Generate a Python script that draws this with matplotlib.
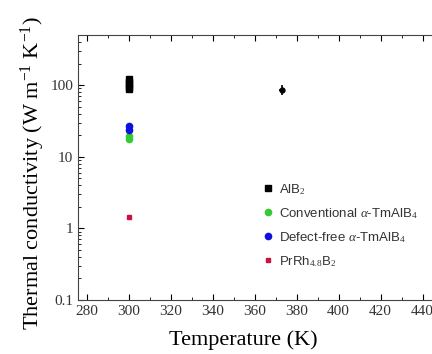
import matplotlib.pyplot as plt
from matplotlib.ticker import MultipleLocator, LogLocator, FixedLocator, NullFormatter

# AlB2 values: cluster at room temperature plus one point near 373 K
alb2_T = [300, 300, 300, 300, 300]
alb2_k = [88, 95, 103, 110, 120]
alb2_hot_T = [373]
alb2_hot_k = [86]
conv_T = [300, 300]
conv_k = [17.5, 19.5]
defect_T = [300, 300]
defect_k = [23.5, 27]
prrh_T = [300]
prrh_k = [1.45]

labels = ["AlB$_2$", "Conventional $\\alpha$-TmAlB$_4$",
          "Defect-free $\\alpha$-TmAlB$_4$", "PrRh$_{4.8}$B$_2$"]

plt.rcParams["mathtext.fontset"] = "custom"
plt.rcParams["mathtext.rm"] = "Liberation Serif"
plt.rcParams["mathtext.it"] = "Liberation Serif:italic"

fig = plt.figure(figsize=(4.32, 3.54), dpi=100)
ax = fig.add_axes([0.181, 0.153, 0.846, 0.748])

ax.plot(alb2_T, alb2_k, "s", color="black", ms=4.5, label=labels[0])
ax.errorbar(alb2_hot_T, alb2_hot_k, xerr=1.2, yerr=14, fmt="o", ms=3.5,
            color="black", elinewidth=1.2)
ax.plot(conv_T, conv_k, "o", color="#33cc33", ms=4.5, label=labels[1])
ax.plot(defect_T, defect_k, "o", color="#1010dd", ms=4.5, label=labels[2])
ax.plot(prrh_T, prrh_k, "s", color="#cc1144", ms=3.5, label=labels[3])

ax.set_yscale("log")
ax.set_xlim(276, 450)
ax.set_ylim(0.1, 500)
ax.xaxis.set_major_locator(MultipleLocator(20))
ax.xaxis.set_minor_locator(MultipleLocator(10))
ax.yaxis.set_major_locator(FixedLocator([0.1, 1, 10, 100]))
ax.yaxis.set_minor_locator(LogLocator(base=10, subs=range(2, 10)))
ax.yaxis.set_minor_formatter(NullFormatter())
ax.set_yticklabels(["0.1", "1", "10", "100"])

ax.tick_params(which="both", direction="in", top=True, right=True)
ax.tick_params(which="major", length=4)
ax.tick_params(which="minor", length=2)
for lab in ax.get_xticklabels() + ax.get_yticklabels():
    lab.set_fontfamily("Liberation Serif")
    lab.set_fontsize(11)
    lab.set_color("#333333")

ax.set_xlabel("Temperature (K)", family="Liberation Serif", fontsize=16)
ax.xaxis.set_label_coords(0.452, -0.115)
ax.set_ylabel("Thermal conductivity (W m$^{\\mathregular{-1}}$ K$^{\\mathregular{-1}}$)",
              family="Liberation Serif", fontsize=16)
ax.yaxis.set_label_coords(-0.085, 0.48)

leg = ax.legend(loc="upper left", bbox_to_anchor=(0.47, 0.49), frameon=False,
                prop={"family": "Liberation Sans", "size": 9.5},
                handletextpad=0.3, labelspacing=0.7, handlelength=1.0)
for t in leg.get_texts():
    t.set_color("#333333")

for s in ax.spines.values():
    s.set_color("#444444")

fig.savefig("out.png", dpi=100)
